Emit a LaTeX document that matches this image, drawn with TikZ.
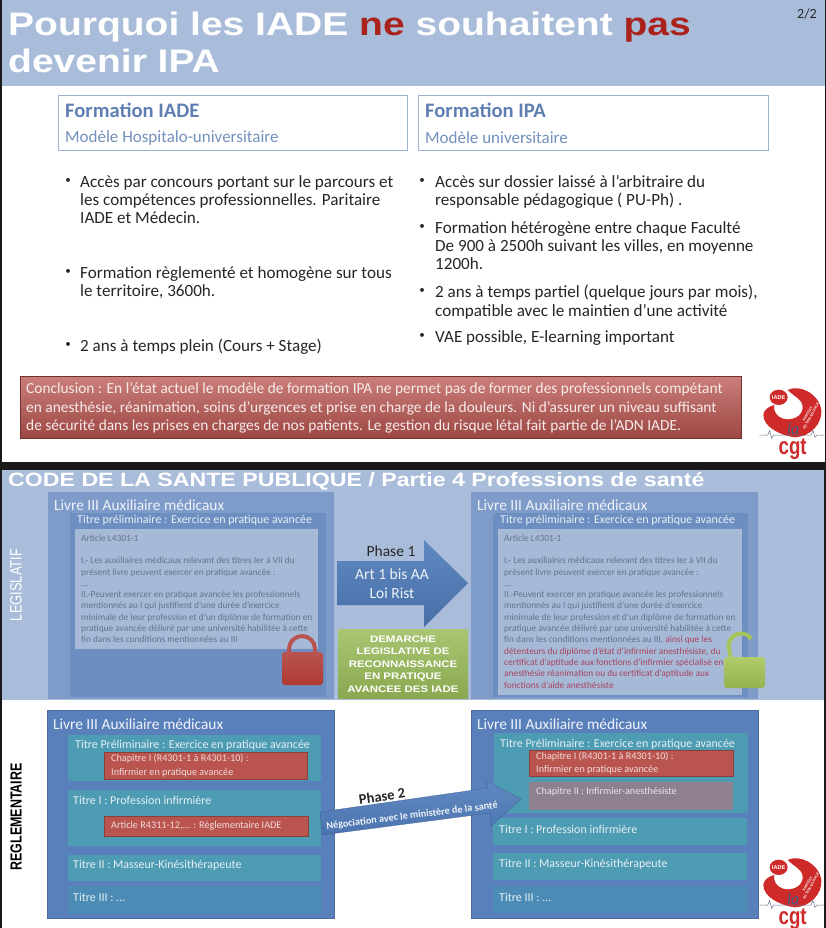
\documentclass[tikz,border=0pt]{standalone}
\usepackage{fontspec}
\setmainfont{Carlito}
\newfontfamily\headfont{Liberation Sans}
\newfontfamily\headwide[FakeStretch=1.2]{Liberation Sans}
\newfontfamily\headnarrow[FakeStretch=0.78]{Liberation Sans}
\usetikzlibrary{calc}
\definecolor{kband}{HTML}{A9BDDA}
\definecolor{kborder}{HTML}{9FB1D0}
\definecolor{khead}{HTML}{5F7FB3}
\definecolor{ksub}{HTML}{7391BD}
\definecolor{kred}{HTML}{A9231C}
\definecolor{kbook}{HTML}{7F9BC9}
\definecolor{ktitre}{HTML}{6D8EC1}
\definecolor{karticle}{HTML}{A6B9D7}
\definecolor{kgrey}{HTML}{66738C}
\definecolor{klawred}{HTML}{A8445E}
\definecolor{kdeep}{HTML}{5A80BC}
\definecolor{kteal}{HTML}{4E9BB4}
\definecolor{kteald}{HTML}{4C8BB5}
\definecolor{kbrick}{HTML}{B9544F}
\definecolor{kmauve}{HTML}{8E808F}
\definecolor{karrow}{HTML}{4F7BB9}
\definecolor{kgreen}{HTML}{9ABB59}
\definecolor{kgreenlock}{HTML}{A7C65A}
\definecolor{klogo}{HTML}{CF2A2A}
\tikzset{
  bodytext/.style={font=\fontsize{17.1}{18.4}\selectfont, anchor=north west, align=left, inner sep=0pt, text=black!85},
  bullet/.style={font=\fontsize{11}{11}\selectfont, inner sep=0pt, text=black!85},
  headtext/.style={font=\fontsize{20.6}{22}\selectfont\bfseries, anchor=west, inner sep=0pt, text=khead},
  subtext/.style={font=\fontsize{17}{19}\selectfont, anchor=west, inner sep=0pt, text=ksub},
  booktext/.style={font=\fontsize{15.4}{18}\selectfont, anchor=west, inner sep=0pt, text=white!88!kbook},
  titretext/.style={font=\fontsize{12}{14}\selectfont, anchor=west, inner sep=0pt, text=white!85!kteal},
  chaptext/.style={font=\fontsize{10.2}{13.2}\selectfont, anchor=west, align=left, inner sep=0pt, text=white!80!kbrick},
  lawtext/.style={font=\fontsize{9.35}{11.3}\selectfont, anchor=north west, align=left, inner sep=0pt, text=kgrey},
  pics/cgtlogo/.style={code={
    \begin{scope}[scale=1/3]
    \fill[klogo] (95,30) .. controls (130,12) and (188,40) .. (196,90) .. controls (199,130) and (165,170) .. (115,172)
      .. controls (70,165) and (22,140) .. (22,105) .. controls (22,90) and (40,78) .. (55,75)
      .. controls (50,98) and (70,118) .. (95,118) .. controls (130,118) and (150,90) .. (135,65)
      .. controls (125,52) and (110,45) .. (95,30) -- cycle;
    \fill[klogo] (68,52) ellipse[x radius=27, y radius=23];
    \node (iade) [font=\headfont\fontsize{5.6}{6}\selectfont\bfseries, text=white, inner sep=0pt] at (68,54) {IADE};
    \node (sante) [font=\headfont\fontsize{3.4}{4}\selectfont\bfseries, text=white, inner sep=0pt, align=center, rotate=60] at (160,105) {SANTE ET\\ACTION SOCIALE};
    \draw[kgrey, line width=0.5pt] (10,165) -- (35,165) -- (41,152) -- (47,175) -- (53,165) -- (165,165) -- (171,152) -- (177,172) -- (183,165) -- (205,165);
    \node (la) [font=\fontsize{16}{16}\selectfont\itshape, text=kdeep!70!black, inner sep=0pt] at (112,148) {la};
    \node (cgt) [font=\headnarrow\fontsize{24}{24}\selectfont\bfseries, text=klogo, anchor=base, inner sep=0pt] at (110,222) {cgt};
    \end{scope}
  }}
}
\begin{document}
\begin{tikzpicture}[x=1pt, y=-1pt]
\useasboundingbox (0,0) rectangle (826,928);
\fill[black!90] (0,0) rectangle (826,928);
\fill[white] (2,0) rectangle (825,462);
\fill[kband] (2,0) rectangle (825,86);
\node (titre) [font=\headwide\fontsize{32.5}{37}\selectfont\bfseries, text=white, anchor=north west, align=left, inner sep=0pt] at (8,12)
  {Pourquoi les IADE \textcolor{kred}{ne} souhaitent \textcolor{kred}{pas}\\devenir IPA};
\node (page) [font=\fontsize{14}{15}\selectfont, text=black!85, inner sep=0pt] at (807,14) {2/2};
\draw[kborder, line width=0.8pt] (58,95) rectangle (407,150);
\node (iadehead) [headtext] at (65,110) {Formation IADE};
\node (iadesub) [subtext] at (65,138) {Modèle Hospitalo-universitaire};
\draw[kborder, line width=0.8pt] (418,95) rectangle (768,150);
\node (ipahead) [headtext] at (425,110) {Formation IPA};
\node (ipasub) [subtext] at (425,138) {Modèle universitaire};
\node (iadea) [bullet] at (68,181) {•};
\node (iadeatext) [bodytext] at (80,175) {Accès par concours portant sur le parcours et\\les compétences professionnelles. Paritaire\\IADE et Médecin.};
\node (iadeb) [bullet] at (68,272) {•};
\node (iadebtext) [bodytext] at (80,266) {Formation règlementé et homogène sur tous\\le territoire, 3600h.};
\node (iadec) [bullet] at (68,345) {•};
\node (iadectext) [bodytext] at (80,339) {2 ans à temps plein (Cours + Stage)};
\node (ipaa) [bullet] at (422,181) {•};
\node (ipaatext) [bodytext] at (435,175) {Accès sur dossier laissé à l’arbitraire du\\responsable pédagogique ( PU-Ph) .};
\node (ipab) [bullet] at (422,227) {•};
\node (ipabtext) [bodytext] at (435,221) {Formation hétérogène entre chaque Faculté\\De 900 à 2500h suivant les villes, en moyenne\\1200h.};
\node (ipac) [bullet] at (422,291) {•};
\node (ipactext) [bodytext] at (435,285) {2 ans à temps partiel (quelque jours par mois),\\compatible avec le maintien d’une activité};
\node (ipad) [bullet] at (422,336) {•};
\node (ipadtext) [bodytext] at (435,330) {VAE possible, E-learning important};
\shade[top color=kbrick!75!white, bottom color=kbrick!85!black, draw=kbrick!60!black, line width=0.3pt] (20,376) rectangle (741,438);
\node (conclusion) [font=\fontsize{15.4}{18.7}\selectfont, text=white!88!kbrick, anchor=west, align=left, inner sep=0pt] at (26,408)
  {Conclusion : En l’état actuel le modèle de formation IPA ne permet pas de former des professionnels compétant\\en anesthésie, réanimation, soins d’urgences et prise en charge de la douleurs. Ni d’assurer un niveau suffisant\\de sécurité dans les prises en charges de nos patients. Le gestion du risque létal fait partie de l’ADN IADE.};
\pic (logoa) at (756,380) {cgtlogo};
\fill[white] (2,470) rectangle (824,928);
\fill[kband] (2,470) rectangle (824,700);
\node (code) [font=\headwide\fontsize{19.3}{22}\selectfont\bfseries, text=white, anchor=west, inner sep=0pt] at (8,481)
  {CODE DE LA SANTE PUBLIQUE / Partie 4 Professions de santé};
\node (legis) [font=\headnarrow\fontsize{16.5}{18}\selectfont, text=white, rotate=90, inner sep=0pt] at (16,585) {LEGISLATIF};
\fill[kbook] (48,492) rectangle (334,699);
\node (livrea) [booktext] at (54,505) {Livre III Auxiliaire médicaux};
\fill[ktitre] (70,513) rectangle (326,697);
\node (titrea) [titretext] at (77,520.5) {Titre préliminaire : Exercice en pratique avancée};
\fill[karticle] (75,529) rectangle (318,649);
\node (lawa) [lawtext] at (81,534.5) {Article L4301-1\\[11.3pt]I.- Les auxiliaires médicaux relevant des titres Ier à VII du\\présent livre peuvent exercer en pratique avancée :\\...\\II.-Peuvent exercer en pratique avancée les professionnels\\mentionnés au I qui justifient d’une durée d’exercice\\minimale de leur profession et d’un diplôme de formation en\\pratique avancée délivré par une université habilitée à cette\\fin dans les conditions mentionnées au III};
\draw[kbrick, line width=4pt] (289,654) -- (289,649) arc[start angle=180, end angle=360, radius=13] -- (315,654);
\shade[top color=kbrick, bottom color=kred!55!kbrick, rounded corners=3pt] (282,652) rectangle (323,685);
\fill[kbook] (471,492) rectangle (758,699);
\node (livreb) [booktext] at (477,505) {Livre III Auxiliaire médicaux};
\fill[ktitre] (493,513) rectangle (748,697);
\node (titreb) [titretext] at (500,520.5) {Titre préliminaire : Exercice en pratique avancée};
\fill[karticle] (498,529) rectangle (742,695);
\node (lawb) [lawtext] at (504,534.5) {Article L4301-1\\[11.3pt]I.- Les auxiliaires médicaux relevant des titres Ier à VII du\\présent livre peuvent exercer en pratique avancée :\\...\\II.-Peuvent exercer en pratique avancée les professionnels\\mentionnés au I qui justifient d’une durée d’exercice\\minimale de leur profession et d’un diplôme de formation en\\pratique avancée délivré par une université habilitée à cette\\fin dans les conditions mentionnées au III, \textcolor{klawred}{ainsi que les}\\\textcolor{klawred}{détenteurs du diplôme d’état d’infirmier anesthésiste, du}\\\textcolor{klawred}{certificat d’aptitude aux fonctions d’infirmier spécialisé en}\\\textcolor{klawred}{anesthésie réanimation ou du certificat d’aptitude aux}\\\textcolor{klawred}{fonctions d’aide anesthésiste}};
\draw[kgreenlock, line width=4pt] (731,659) -- (728.5,646) arc[start angle=180, end angle=325, radius=12.5];
\shade[top color=kgreenlock!90!white, bottom color=kgreenlock!90!black, rounded corners=3pt] (724,657) rectangle (765,688);
\shade[top color=karrow!90!white, bottom color=karrow!90!black] (337,561) -- (424,561) -- (424,540) -- (468,583) -- (424,627) -- (424,605) -- (337,605) -- cycle;
\node (phasea) [font=\fontsize{15.5}{18}\selectfont, text=black!85, inner sep=0pt] at (391,551) {Phase 1};
\node (arta) [font=\fontsize{15.5}{18.5}\selectfont, text=white!90!karrow, align=center, inner sep=0pt] at (392,583.5) {Art 1 bis AA\\Loi Rist};
\shade[top color=kgreen!85!white, bottom color=kgreen!90!black] (338,629) rectangle (468,698);
\node (demarche) [font=\headwide\fontsize{9.5}{12.4}\selectfont\bfseries, text=white, align=center, inner sep=0pt] at (403,664)
  {DEMARCHE\\LEGISLATIVE DE\\RECONNAISSANCE\\EN PRATIQUE\\AVANCEE DES IADE};
\node (regle) [font=\headnarrow\fontsize{16}{18}\selectfont\bfseries, text=black, rotate=90, inner sep=0pt] at (16,817) {REGLEMENTAIRE};
\fill[kdeep, draw=kdeep!85!black, line width=0.3pt] (47,710) rectangle (334,918);
\node (livrec) [booktext] at (53,724) {Livre III Auxiliaire médicaux};
\fill[kteal] (68,735) rectangle (321,781);
\node (titrec) [titretext] at (75,745) {Titre Préliminaire : Exercice en pratique avancée};
\fill[kbrick, draw=kbrick!75!black, line width=0.5pt] (104,752) rectangle (307,779);
\node (chapc) [chaptext] at (111,765.5) {Chapitre I (R4301-1 à R4301-10) :\\Infirmier en pratique avancée};
\fill[kteal] (68,790) rectangle (321,846);
\node (titred) [titretext] at (73,800.5) {Titre I : Profession infirmière};
\fill[kbrick, draw=kbrick!75!black, line width=0.5pt] (104,816) rectangle (308,836);
\node (chapd) [chaptext] at (111,826) {Article R4311-12,... : Règlementaire IADE};
\fill[kteal] (68,855) rectangle (321,881);
\node (titree) [titretext] at (73,865) {Titre II : Masseur-Kinésithérapeute};
\fill[kteald] (68,886) rectangle (322,914);
\node (titref) [titretext] at (73,897) {Titre III : ...};
\fill[kdeep, draw=kdeep!85!black, line width=0.3pt] (471,710) rectangle (758,918);
\node (livreg) [booktext] at (477,724) {Livre III Auxiliaire médicaux};
\fill[kteal] (494,733) rectangle (748,813);
\node (titreg) [titretext] at (500,744) {Titre Préliminaire : Exercice en pratique avancée};
\fill[kbrick, draw=kbrick!75!black, line width=0.5pt] (529,750) rectangle (733,776);
\node (chapg) [chaptext] at (536,763) {Chapitre I (R4301-1 à R4301-10) :\\Infirmier en pratique avancée};
\fill[kmauve] (529,782) rectangle (733,810);
\node (chaph) [chaptext, text=white!80!kmauve] at (536,792) {Chapitre II : Infirmier-anesthésiste};
\fill[kteal] (493,818) rectangle (747,845);
\node (titreh) [titretext] at (499,829) {Titre I : Profession infirmière};
\fill[kteal] (493,853) rectangle (747,880);
\node (titrei) [titretext] at (499,864) {Titre II : Masseur-Kinésithérapeute};
\fill[kteald] (493,886) rectangle (748,913);
\node (titrej) [titretext] at (499,897) {Titre III : ...};
\shade[top color=karrow!90!white, bottom color=karrow!95!black, draw=karrow!80!black, line width=0.3pt] (320,812) -- (488,788) -- (486,781) -- (521,799) -- (491,826) -- (490,813) -- (322,835) -- cycle;
\node (phaseb) [font=\fontsize{14.5}{16}\selectfont\bfseries, text=black!85, rotate=8, inner sep=0pt] at (382,796) {Phase 2};
\node (nego) [font=\fontsize{10.2}{12}\selectfont\bfseries, text=white!90!karrow, rotate=7, inner sep=0pt] at (412,816) {Négociation avec le ministère de la santé};
\pic (logob) at (756,850) {cgtlogo};
\end{tikzpicture}
\end{document}
